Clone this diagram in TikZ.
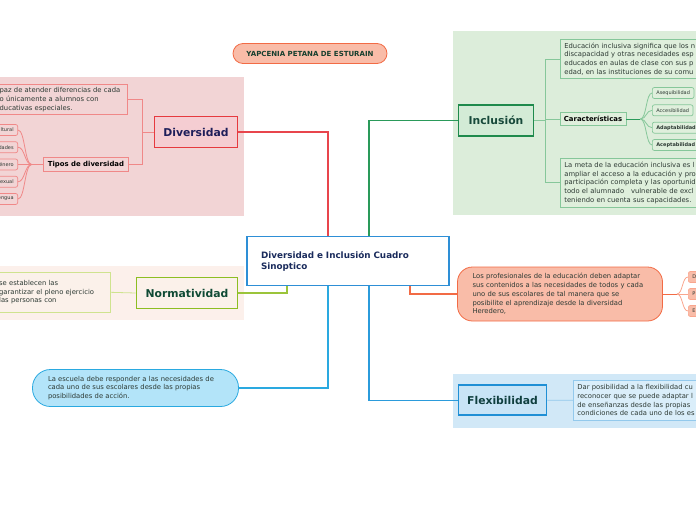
\documentclass[tikz,border=0pt]{standalone}
\usepackage{fontspec}
\setmainfont{DejaVu Sans}
% Colours
\definecolor{divbg}{HTML}{F2D4D5}
\definecolor{divred}{HTML}{E63A3F}
\definecolor{divline}{HTML}{E8454C}
\definecolor{divfill}{HTML}{F5CDD2}
\definecolor{divsoft}{HTML}{F08888}
\definecolor{divtext}{HTML}{1E1E5A}
\definecolor{incbg}{HTML}{DCEDDA}
\definecolor{incgreen}{HTML}{1F8A4C}
\definecolor{incline}{HTML}{2A9A5A}
\definecolor{incfill}{HTML}{D3EBD6}
\definecolor{incsoft}{HTML}{86C79A}
\definecolor{incnote}{HTML}{DFEFDC}
\definecolor{inctext}{HTML}{17493A}
\definecolor{normbg}{HTML}{FCF0EB}
\definecolor{normgreen}{HTML}{8DBE22}
\definecolor{normline}{HTML}{9BC43A}
\definecolor{normfill}{HTML}{FBF1EA}
\definecolor{normsoft}{HTML}{CFE38F}
\definecolor{normtext}{HTML}{0F4A34}
\definecolor{orafill}{HTML}{F9BCA8}
\definecolor{oraline}{HTML}{F26B45}
\definecolor{orasoft}{HTML}{F9A68E}
\definecolor{skyfill}{HTML}{B3E4F9}
\definecolor{skyline}{HTML}{2AA9E0}
\definecolor{flexbg}{HTML}{D1E8F7}
\definecolor{flexblue}{HTML}{1F8FD5}
\definecolor{flexline}{HTML}{2B9BDB}
\definecolor{flexfill}{HTML}{C8E4F6}
\definecolor{flexsoft}{HTML}{93C9EC}
\definecolor{flexnote}{HTML}{DAEEFA}
\definecolor{flextext}{HTML}{0F3F3F}
\definecolor{centblue}{HTML}{2E8FD6}
\definecolor{centtext}{HTML}{1A2B5C}
\definecolor{notetext}{HTML}{2D3A34}
\definecolor{titletext}{HTML}{173F2E}
\begin{document}
\begin{tikzpicture}[x=1pt,y=-1pt,
    every node/.style={inner sep=0pt, text=notetext},
    topic/.style={draw, line width=1.6pt, font=\fontsize{10.8}{13}\selectfont\bfseries},
    note/.style={draw, line width=0.7pt, align=left, inner xsep=4pt,
        font=\fontsize{6.8}{8.7}\selectfont},
    subtopic/.style={note, text=black, font=\fontsize{6.9}{8}\selectfont\bfseries},
    leaf/.style={draw, line width=0.7pt, rounded corners=2pt, minimum height=11,
        inner xsep=4pt, font=\fontsize{5}{6}\selectfont},
    mainlink/.style={line width=1.2pt},
    sublink/.style={line width=0.8pt}]
    \clip (0,0) rectangle (696,520);
    % Draw areas
    \fill[divbg] (0,77) rectangle (244,215.5);
    \fill[incbg] (453,31) rectangle (696,214.5);
    \fill[normbg] (0,265.5) rectangle (244,320);
    \fill[flexbg] (453,373.5) rectangle (696,427.5);
    % Title and centre
    \node[draw=oraline, fill=orafill, line width=0.8pt, rounded corners=10pt,
        minimum width=154, minimum height=20, text=titletext,
        font=\fontsize{7}{8}\selectfont\bfseries] (autora) at (310,53.5) {YAPCENIA PETANA DE ESTURAIN};
    \node[draw=centblue, line width=1.6pt, fill=white, minimum height=49,
        text width=174, inner xsep=14pt, align=left, text=centtext,
        font=\fontsize{8.8}{11}\selectfont\bfseries] (centro) at (348,261) {Diversidad e Inclusión Cuadro\\Sinoptico};
    % Diversidad
    \node[topic, draw=divred, fill=divfill, text=divtext, minimum width=83, minimum height=31] (diversidad) at (196,132) {Diversidad};
    \node[note, draw=divsoft, fill=divbg, anchor=east, text width=125, inner xsep=3pt,
        minimum height=30] (divdesc) at (128,99.5) {paz de atender diferencias de cada\\o únicamente a alumnos con\\ducativas especiales.};
    \node[subtopic, draw=divsoft, fill=divbg, minimum width=85, minimum height=14] (tipos) at (86,164.5) {Tipos de diversidad};
    \foreach \t [count=\i] in {ltural, dades, énero, exual, engua} {
        \node[leaf, draw=divsoft, fill=divbg, anchor=east, text width=22, align=right] (tipo\i) at (18,{112.75+17.25*\i}) {\t};
    }
    \coordinate (divfork) at ([xshift=-11pt]diversidad.west);
    \draw[sublink, divsoft] (diversidad.west) -- (divfork) |- (divdesc.east);
    \draw[sublink, divsoft] (divfork) |- (tipos.east);
    \coordinate (tipofork) at ([xshift=-11.5pt]tipos.west);
    \draw[sublink, divsoft] (tipos.west) -- (tipofork);
    \foreach \i in {1,...,5} {
        \draw[sublink, divsoft] (tipofork) .. controls +(-7,0) and +(7,0) .. (tipo\i.east);
    }
    % Inclusion
    \node[topic, draw=incgreen, fill=incfill, text=inctext, minimum width=75, minimum height=31] (inclusion) at (496,120.5) {Inclusión};
    \node[note, draw=incsoft, fill=incnote, anchor=west, text width=170, minimum height=39] (incdesc) at (560,59) {Educación inclusiva significa que los n\\discapacidad y otras necesidades esp\\educados en aulas de clase con sus p\\edad, en las instituciones de su comu};
    \node[subtopic, draw=incsoft, fill=incnote, minimum width=66, minimum height=12.5] (caract) at (593,119) {Características};
    \node[note, draw=incsoft, fill=incnote, anchor=west, text width=170, minimum height=49] (incmeta) at (560,182.8) {La meta de la educación inclusiva es l\\ampliar el acceso a la educación y pro\\participación completa y las oportunid\\todo el alumnado \ \ vulnerable de excl\\teniendo en cuenta sus capacidades.};
    \foreach \t/\f [count=\i] in {Asequibilidad/\mdseries, Accesibilidad/\mdseries, Adaptabilidad/\bfseries, Aceptabilidad/\bfseries} {
        \node[leaf, draw=incsoft, fill=incnote, anchor=west] (rasgo\i) at (652,{75.67+17.33*\i}) {\f\t};
    }
    \coordinate (incfork) at ([xshift=11pt]inclusion.east);
    \draw[sublink, incsoft] (inclusion.east) -- (incfork) |- (incdesc.west);
    \draw[sublink, incsoft] (incfork) |- (caract.west);
    \draw[sublink, incsoft] (incfork) |- (incmeta.west);
    \coordinate (rasgofork) at ([xshift=14pt]caract.east);
    \draw[sublink, incline] (caract.east) -- (rasgofork);
    \foreach \i in {1,...,4} {
        \draw[sublink, incsoft] (rasgofork) .. controls +(6,0) and +(-6,0) .. (rasgo\i.west);
    }
    % Normatividad
    \node[topic, draw=normgreen, fill=normfill, text=normtext, minimum width=101, minimum height=31] (normatividad) at (187,293) {Normatividad};
    \node[note, draw=normsoft, fill=normfill, anchor=east, text width=108, inner xsep=3pt,
        minimum height=40] (normdesc) at (110.5,292.3) {se establecen las\\garantizar el pleno ejercicio\\las personas con};
    \draw[sublink, normsoft] (normatividad.west) -- (normdesc.east);
    % Profesionales
    \node[note, draw=oraline, fill=orafill, line width=0.8pt, rounded corners=15pt,
        text width=175, inner xsep=15pt, minimum height=54] (profes) at (560,294) {Los profesionales de la educación deben adaptar\\sus contenidos a las necesidades de todos y cada\\uno de sus escolares de tal manera que se\\posibilite el aprendizaje desde la diversidad\\Heredero,};
    \foreach \t [count=\i] in {D, P, E} {
        \node[leaf, draw=orasoft, fill=orafill, anchor=west, text width=12, align=left] (clave\i) at (688,{260+17*\i}) {\t};
    }
    \coordinate (clavefork) at ([xshift=14pt]profes.east);
    \draw[sublink, oraline] (profes.east) -- (clavefork);
    \foreach \i in {1,...,3} {
        \draw[sublink, orasoft] (clavefork) .. controls +(6,0) and +(-6,0) .. (clave\i.west);
    }
    % Escuela
    \node[note, draw=skyline, fill=skyfill, line width=0.8pt, rounded corners=18pt,
        text width=175, inner xsep=15.5pt, minimum height=37] (escuela) at (135.5,388) {La escuela debe responder a las necesidades de\\cada uno de sus escolares desde las propias\\posibilidades de acción.};
    % Flexibilidad
    \node[topic, draw=flexblue, fill=flexfill, text=flextext, minimum width=88, minimum height=30] (flexibilidad) at (502.5,400.2) {Flexibilidad};
    \node[note, draw=flexsoft, fill=flexnote, anchor=west, text width=170, minimum height=40] (flexdesc) at (573,400.3) {Dar posibilidad a la flexibilidad cu\\reconocer que se puede adaptar l\\de enseñanzas desde las propias\\condiciones de cada uno de los es};
    \draw[sublink, flexsoft] (flexibilidad.east) -- (flexdesc.west);
    % Draw links to the centre
    \draw[mainlink, divline] (diversidad.east) -| ([xshift=-20pt]centro.north);
    \draw[mainlink, incline] ([xshift=21pt]centro.north) |- (inclusion.west);
    \draw[mainlink, normline] (normatividad.east) -| ([xshift=-61pt]centro.south);
    \draw[mainlink, oraline] ([xshift=62pt]centro.south) |- (profes.west);
    \draw[mainlink, skyline] (escuela.east) -| ([xshift=-20pt]centro.south);
    \draw[mainlink, flexline] ([xshift=21pt]centro.south) |- (flexibilidad.west);
\end{tikzpicture}
\end{document}
